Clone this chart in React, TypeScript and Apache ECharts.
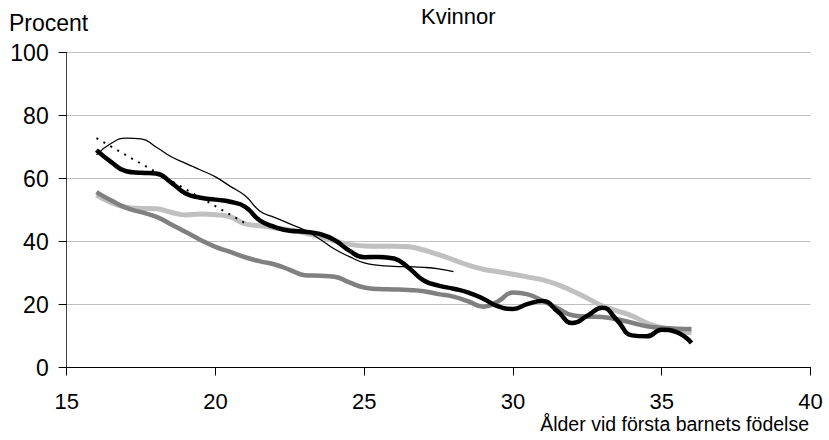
import React, { useEffect, useRef } from "react";
import * as echarts from "echarts";

// Age at first child's birth (x) and percentages (y)
const ages = [
  16, 16.5, 17, 17.5, 18, 18.5, 19, 19.5, 20, 20.5, 21, 21.5, 22, 22.5, 23, 23.5,
  24, 24.5, 25, 25.5, 26, 26.5, 27, 27.5, 28, 28.5, 29, 29.5, 30, 30.5, 31, 31.5,
  32, 32.5, 33, 33.5, 34, 34.5, 35, 35.5, 36,
];

const thickBlack = [
  69, 65.2, 62.3, 61.8, 61.6, 58.8, 55.2, 53.9, 53.3, 52.6, 51, 46.6, 44.6, 43.4, 43.1, 42.4,
  40.5, 37.1, 35, 35.1, 34.6, 31.6, 27.6, 26, 25, 23.8, 21.8, 19.4, 18.6, 20.2, 21.1, 17.8,
  14.1, 16.4, 19, 15, 10.2, 9.9, 12, 11.2, 7.8,
];

const thinAges = [
  16, 16.5, 17, 17.5, 18, 18.5, 19, 19.5, 20, 20.5, 21, 21.5, 22, 22.5, 23, 23.5,
  24, 24.5, 25, 25.5, 26, 26.5, 27, 27.5, 28,
];
const thinBlack = [
  67.5, 71.2, 72.8, 72.6, 70, 67, 64.8, 62.7, 60.5, 57.5, 54.5, 49.6, 47.6, 45.6, 43.6, 40.8,
  37.6, 35.2, 33.2, 32.4, 32.1, 32, 31.8, 31.3, 30.4,
];

const lightGrey = [
  54.7, 52.3, 50.9, 50.5, 50.4, 49.3, 48.4, 48.7, 48.5, 47.8, 45.6, 45, 44.3, 43.7, 42.7, 41.5,
  40.2, 39.1, 38.6, 38.5, 38.5, 38.3, 37.3, 35.8, 34.2, 32.5, 31.2, 30.4, 29.6, 28.7, 27.8, 26.3,
  24.3, 22, 19.6, 18, 16.4, 14.1, 12.6, 11.5, 11,
];

const darkGrey = [
  55.7, 53, 50.7, 49.3, 47.9, 45.5, 43, 40.5, 38.3, 36.7, 35, 33.7, 32.7, 31, 29.3, 29.1,
  28.8, 27, 25.4, 24.9, 24.8, 24.6, 24.2, 23.3, 22.5, 21, 19.3, 21, 23.8, 23.2, 21.2, 18.8,
  16.6, 16.2, 16.0, 15.3, 14.2, 13.1, 12.6, 12.3, 12.2,
];

const trendAges = [16, 21];
const trendValues = [72.8, 45.8];

const xTicks = [15, 20, 25, 30, 35, 40];
const yTicks = [0, 20, 40, 60, 80, 100];

const titleText = "Kvinnor";
const yName = "Procent";
const xName = "Ålder vid första barnets födelse";

const FONT = "'Liberation Sans', Arial, sans-serif";

const pair = (xs: number[], ys: number[]) => xs.map((x, i) => [x, ys[i]]);

export default function App() {
  const ref = useRef<HTMLDivElement>(null);

  useEffect(() => {
    if (!ref.current) return;
    const chart = echarts.init(ref.current, undefined, { renderer: "svg" });
    chart.setOption({
      animation: false,
      backgroundColor: "#ffffff",
      title: {
        text: titleText,
        left: 421,
        top: 5,
        padding: 0,
        textStyle: { fontFamily: FONT, fontSize: 22, fontWeight: "normal", color: "#000" },
      },
      graphic: [
        {
          type: "text",
          left: 9,
          top: 11,
          style: { text: yName, font: `23px ${FONT}`, fill: "#000" },
        },
        {
          type: "text",
          right: 20,
          top: 414,
          style: { text: xName, font: `19.5px ${FONT}`, fill: "#000" },
        },
      ],
      grid: { left: 66.7, right: 18.5, top: 52.5, bottom: 72.5, containLabel: false },
      xAxis: {
        type: "value",
        min: xTicks[0],
        max: xTicks[xTicks.length - 1],
        interval: 5,
        axisLine: { show: true, onZero: false, lineStyle: { color: "#000", width: 1 } },
        axisTick: { show: true, inside: false, length: 8, lineStyle: { color: "#000" } },
        axisLabel: { margin: 23, fontFamily: FONT, fontSize: 22, color: "#000" },
        splitLine: { show: false },
      },
      yAxis: {
        type: "value",
        min: yTicks[0],
        max: yTicks[yTicks.length - 1],
        interval: 20,
        axisLine: { show: true, lineStyle: { color: "#444", width: 1 } },
        axisTick: { show: true, inside: false, length: 8, lineStyle: { color: "#000" } },
        axisLabel: { margin: 18, fontFamily: FONT, fontSize: 23, color: "#000" },
        splitLine: { show: true, lineStyle: { color: "#c0c0c0", width: 1 } },
      },
      series: [
        {
          type: "line",
          data: pair(ages, lightGrey),
          smooth: 0.5,
          showSymbol: false,
          lineStyle: { color: "#c0c0c0", width: 5 },
          z: 2,
        },
        {
          type: "line",
          data: pair(ages, darkGrey),
          smooth: 0.5,
          showSymbol: false,
          lineStyle: { color: "#808080", width: 4.5 },
          z: 3,
        },
        {
          type: "line",
          data: pair(thinAges, thinBlack),
          smooth: 0.5,
          showSymbol: false,
          lineStyle: { color: "#000", width: 1.3 },
          z: 4,
        },
        {
          type: "line",
          data: pair(ages, thickBlack),
          smooth: 0.5,
          showSymbol: false,
          lineStyle: { color: "#000", width: 4.5 },
          z: 5,
        },
        {
          type: "line",
          data: pair(trendAges, trendValues),
          showSymbol: false,
          lineStyle: { color: "#000", width: 2, type: [2, 6] },
          z: 6,
        },
      ],
    });
    return () => chart.dispose();
  }, []);

  return (
    <div
      ref={ref}
      style={{ position: "fixed", left: 0, top: 0, width: 829, height: 440 }}
    />
  );
}
